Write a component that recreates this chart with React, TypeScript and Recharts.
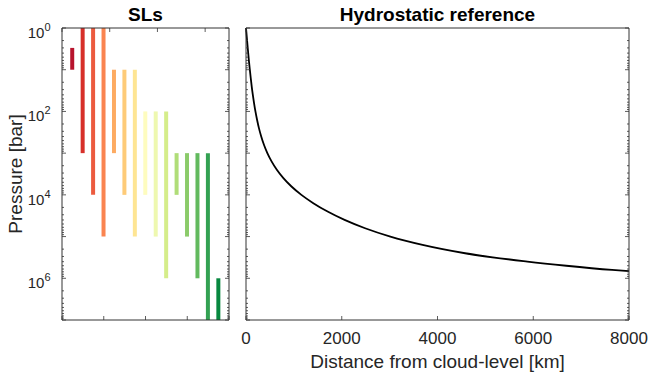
import { ComposedChart, Bar, Cell, Line, XAxis, YAxis } from "recharts";

// storage layers: top / bottom pressure of each band [bar]
const slIds = [1, 2, 3, 4, 5, 6, 7, 8, 9, 10, 11, 12, 13, 14, 15];
const slTop = [3, 1, 1, 1, 10, 10, 10, 100, 100, 100, 1e3, 1e3, 1e3, 1e3, 1e6];
const slBottom = [10, 1e3, 1e4, 1e5, 1e3, 1e4, 1e5, 1e4, 1e5, 1e6, 1e4, 1e5, 1e6, 1e7, 1e7];
const slColors = [
  "#b8142d", "#d7302a", "#ec5b3f", "#fa8450", "#fdab62", "#fecb78", "#fee593", "#fefcbf",
  "#eef8b0", "#d5ed8a", "#b0dd78", "#8bcb6a", "#62ba5e", "#33a152", "#07883f",
];

// hydrostatic profile, distance where the curve crosses each pressure level
const distanceKm = [
  0, 15, 30, 46, 62, 80, 99, 119, 142, 168, 197, 231, 270, 318, 375, 446,
  534, 644, 781, 950, 1157, 1406, 1704, 2059, 2488, 3016, 3688, 4577, 5877, 6691, 7646, 8000,
];
const pressureBar = [
  1, 1.58, 2.51, 3.98, 6.31, 10, 15.8, 25.1, 39.8, 63.1, 100, 158, 251, 398, 631, 1000,
  1580, 2510, 3980, 6310, 1e4, 1.58e4, 2.51e4, 3.98e4, 6.31e4, 1e5, 1.58e5, 2.51e5, 3.98e5, 5.01e5, 6.31e5, 6.76e5,
];

const decades = [1, 10, 100, 1e3, 1e4, 1e5, 1e6, 1e7];
const labelledDecades = [1, 100, 1e4, 1e6];
const minorSteps = [2, 3, 4, 5, 6, 7, 8, 9];
const slXTicks = [0, 4, 8, 12, 16];
const distTicks = [0, 2000, 4000, 6000, 8000];

const pressureTicks = decades
  .slice(0, -1)
  .flatMap((d) => [d, ...minorSteps.map((m) => m * d)])
  .concat(decades[decades.length - 1]);

const FONT = "'Liberation Sans', Arial, Helvetica, sans-serif";
const INK = "#262626";
const FRAME = "#333333";

const slData = slIds.map((id, i) => ({ id, range: [slTop[i], slBottom[i]] }));
const profile = distanceKm.map((d, i) => ({ d, p: pressureBar[i] }));

function LogTick(props: any) {
  const { x, y, payload, side, showLabel } = props;
  const v = payload.value as number;
  const isDecade = decades.includes(v);
  const len = isDecade ? 4 : 2;
  const dir = side === "left" ? 1 : -1;
  const exp = Math.round(Math.log10(v));
  return (
    <g>
      <line x1={x} x2={x + dir * len} y1={y} y2={y} stroke={FRAME} strokeWidth={0.8} />
      {showLabel && labelledDecades.includes(v) && (
        <text x={50.5} y={y + 10} textAnchor="end" fill={INK} fontFamily={FONT}>
          <tspan fontSize={15}>10</tspan>
          <tspan fontSize={11} dy={-7}>{exp}</tspan>
        </text>
      )}
    </g>
  );
}

function LinTick(props: any) {
  const { x, y, payload, side, showLabel } = props;
  const dir = side === "top" ? 1 : -1;
  return (
    <g>
      <line x1={x} x2={x} y1={y} y2={y + dir * 4} stroke={FRAME} strokeWidth={0.8} />
      {showLabel && (
        <text x={x} y={y + 24} textAnchor="middle" fill={INK} fontFamily={FONT} fontSize={17}>
          {payload.value}
        </text>
      )}
    </g>
  );
}

const axisLine = { stroke: FRAME, strokeWidth: 1 };

function SLPanel() {
  return (
    <ComposedChart width={232} height={376} data={slData} margin={{ top: 0, right: 0, bottom: 0, left: 0 }}>
      <XAxis xAxisId="b" dataKey="id" type="number" domain={[0, 16]} ticks={slXTicks} interval={0}
        height={56} axisLine={axisLine} tickLine={false} tickSize={0} tickMargin={0}
        tick={(p: any) => <LinTick {...p} side="bottom" showLabel={false} />} />
      <XAxis xAxisId="t" orientation="top" type="number" domain={[0, 16]} ticks={slXTicks} interval={0}
        height={28} axisLine={axisLine} tickLine={false} tickSize={0} tickMargin={0}
        tick={(p: any) => <LinTick {...p} side="top" showLabel={false} />} />
      <YAxis yAxisId="l" scale="log" type="number" domain={[1, 1e7]} reversed allowDataOverflow
        ticks={pressureTicks} interval={0} width={62} axisLine={axisLine} tickLine={false} tickSize={0} tickMargin={0}
        tick={(p: any) => <LogTick {...p} side="left" showLabel />} />
      <YAxis yAxisId="r" orientation="right" scale="log" type="number" domain={[1, 1e7]} reversed allowDataOverflow
        ticks={pressureTicks} interval={0} width={3} axisLine={axisLine} tickLine={false} tickSize={0} tickMargin={0}
        tick={(p: any) => <LogTick {...p} side="right" showLabel={false} />} />
      <Bar xAxisId="b" yAxisId="l" dataKey="range" barSize={4} isAnimationActive={false}>
        {slData.map((row, i) => (
          <Cell key={row.id} fill={slColors[i]} />
        ))}
      </Bar>
    </ComposedChart>
  );
}

function ProfilePanel() {
  return (
    <ComposedChart width={417} height={376} data={profile} margin={{ top: 0, right: 0, bottom: 0, left: 0 }}>
      <XAxis xAxisId="b" dataKey="d" type="number" domain={[0, 8000]} ticks={distTicks} interval={0}
        height={56} axisLine={axisLine} tickLine={false} tickSize={0} tickMargin={0}
        tick={(p: any) => <LinTick {...p} side="bottom" showLabel />} />
      <XAxis xAxisId="t" orientation="top" type="number" domain={[0, 8000]} ticks={distTicks} interval={0}
        height={28} axisLine={axisLine} tickLine={false} tickSize={0} tickMargin={0}
        tick={(p: any) => <LinTick {...p} side="top" showLabel={false} />} />
      <YAxis yAxisId="l" scale="log" type="number" domain={[1, 1e7]} reversed allowDataOverflow
        ticks={pressureTicks} interval={0} width={14} axisLine={axisLine} tickLine={false} tickSize={0} tickMargin={0}
        tick={(p: any) => <LogTick {...p} side="left" showLabel={false} />} />
      <YAxis yAxisId="r" orientation="right" scale="log" type="number" domain={[1, 1e7]} reversed allowDataOverflow
        ticks={pressureTicks} interval={0} width={20} axisLine={axisLine} tickLine={false} tickSize={0} tickMargin={0}
        tick={(p: any) => <LogTick {...p} side="right" showLabel={false} />} />
      <Line xAxisId="b" yAxisId="l" dataKey="p" type="monotone" stroke="#000000" strokeWidth={1.8}
        dot={false} isAnimationActive={false} />
    </ComposedChart>
  );
}

export default function App() {
  return (
    <div style={{ position: "absolute", left: 0, top: 0, width: 649, height: 376, background: "#ffffff", fontFamily: FONT }}>
      <div style={{ position: "absolute", left: 0, top: 0 }}>
        <SLPanel />
      </div>
      <div style={{ position: "absolute", left: 232, top: 0 }}>
        <ProfilePanel />
      </div>
      <svg width={649} height={376} style={{ position: "absolute", left: 0, top: 0, pointerEvents: "none" }}>
        <text x={145.5} y={20.5} textAnchor="middle" fontSize={19} fontWeight="bold" fill="#000" fontFamily={FONT}>SLs</text>
        <text x={437.5} y={20.5} textAnchor="middle" fontSize={19} fontWeight="bold" fill="#000" fontFamily={FONT}>Hydrostatic reference</text>
        <text x={22} y={174} transform="rotate(-90 22 174)" textAnchor="middle" fontSize={19} fill={INK} fontFamily={FONT}>Pressure [bar]</text>
        <text x={437.5} y={367.5} textAnchor="middle" fontSize={19} fill={INK} fontFamily={FONT}>Distance from cloud-level [km]</text>
      </svg>
    </div>
  );
}
